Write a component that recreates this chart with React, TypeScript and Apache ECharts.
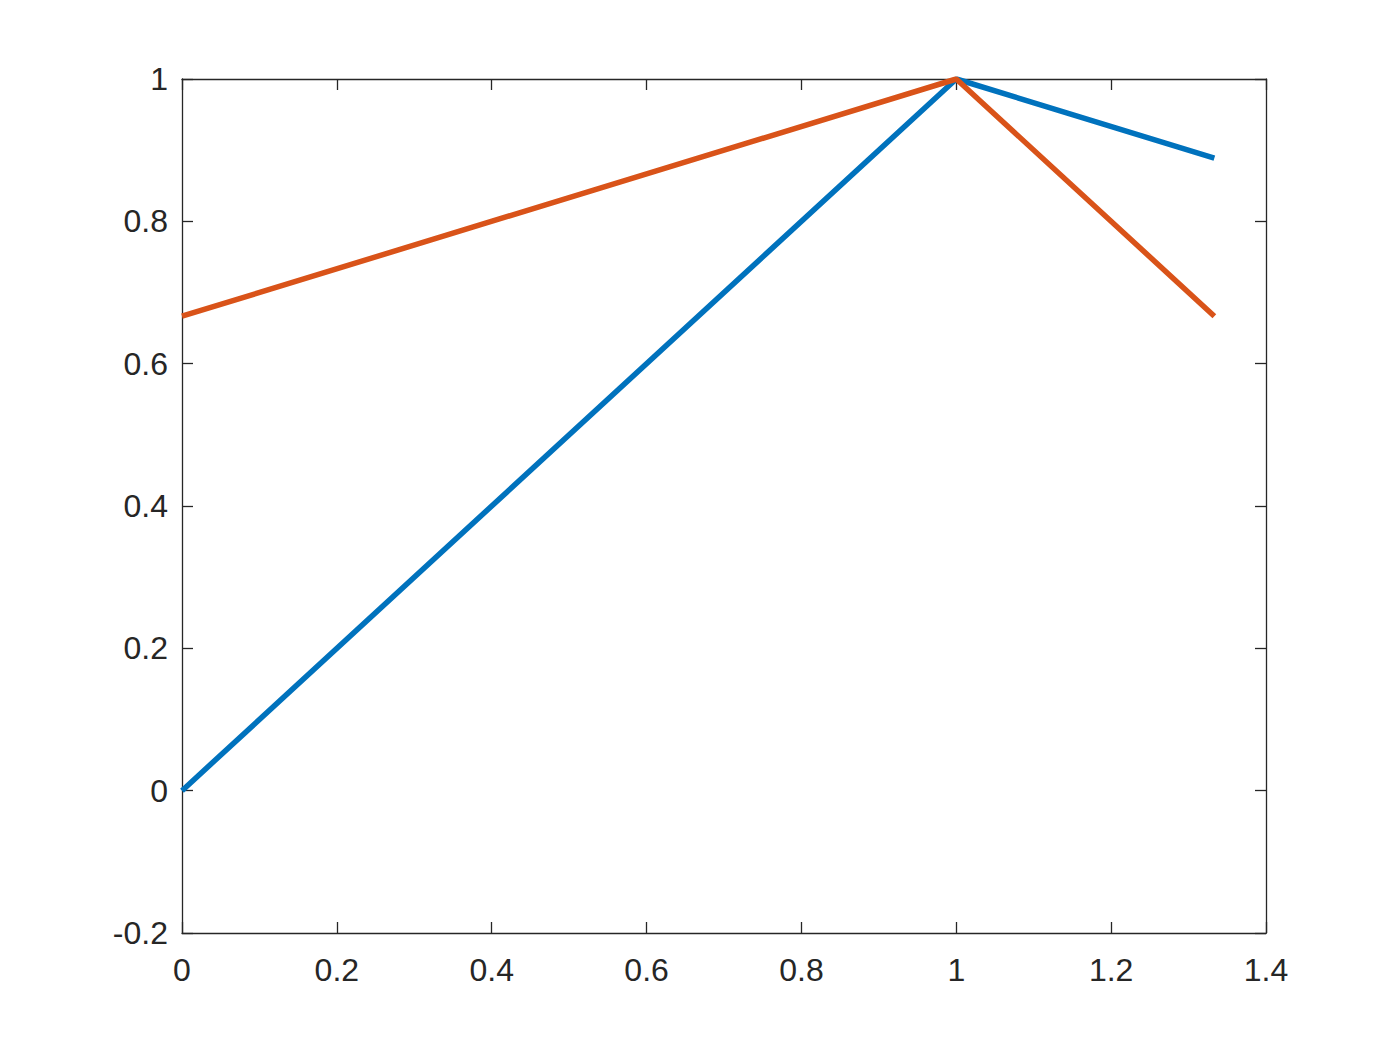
import React, { useEffect, useRef } from "react";
import * as echarts from "echarts";

const xBlue = [0, 1, 1.3333];
const yBlue = [0, 1, 0.8889];
const xRed = [0, 1, 1.3333];
const yRed = [0.6667, 1, 0.6667];

const AX = "#262626";
const FONT = "'Liberation Sans', Arial, Helvetica, sans-serif";

export default function App() {
  const ref = useRef<HTMLDivElement>(null);
  useEffect(() => {
    document.body.style.margin = "0";
    const chart = echarts.init(ref.current!, null, { renderer: "svg" });
    const axisCommon = {
      axisLine: { show: true, onZero: false, lineStyle: { color: AX, width: 1.3 } },
      axisTick: { show: true, inside: true, length: 11, lineStyle: { color: AX, width: 1.3 } },
      splitLine: { show: false },
    };
    chart.setOption({
      animation: false,
      backgroundColor: "#ffffff",
      grid: { left: 182, top: 79, width: 1084, height: 854, containLabel: false },
      xAxis: [
        {
          type: "value", min: 0, max: 1.4, interval: 0.2, position: "bottom",
          ...axisCommon,
          axisLabel: { color: AX, fontSize: 32, fontFamily: FONT, margin: 21 },
        },
        {
          type: "value", min: 0, max: 1.4, interval: 0.2, position: "top",
          ...axisCommon,
          axisLabel: { show: false },
        },
      ],
      yAxis: [
        {
          type: "value", min: -0.2, max: 1, interval: 0.2, position: "left",
          ...axisCommon,
          axisLabel: { color: AX, fontSize: 32, fontFamily: FONT, margin: 14 },
        },
        {
          type: "value", min: -0.2, max: 1, interval: 0.2, position: "right",
          ...axisCommon,
          axisLabel: { show: false },
        },
      ],
      series: [
        {
          type: "line", xAxisIndex: 0, yAxisIndex: 0,
          data: xBlue.map((x, i) => [x, yBlue[i]]),
          showSymbol: false, symbol: "none",
          lineStyle: { color: "#0072BD", width: 5.5 },
          itemStyle: { color: "#0072BD" },
        },
        {
          type: "line", xAxisIndex: 0, yAxisIndex: 0,
          data: xRed.map((x, i) => [x, yRed[i]]),
          showSymbol: false, symbol: "none",
          lineStyle: { color: "#D95319", width: 5.5 },
          itemStyle: { color: "#D95319" },
        },
      ],
    });
    return () => chart.dispose();
  }, []);
  return <div ref={ref} style={{ width: 1400, height: 1050 }} />;
}
